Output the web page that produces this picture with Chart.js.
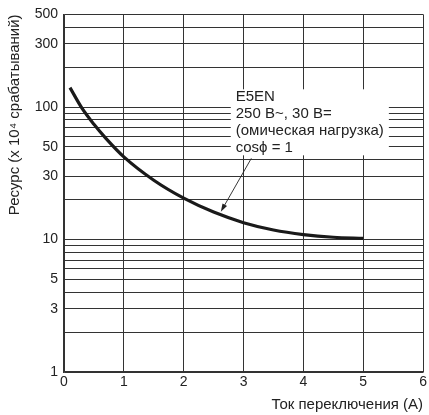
<!DOCTYPE html>
<html>
<head>
<meta charset="utf-8">
<script src="https://cdn.jsdelivr.net/npm/chart.js@4/dist/chart.umd.min.js"></script>
<style>
html,body{margin:0;padding:0;background:#fff;}
#wrap{width:429px;height:415px;}
</style>
</head>
<body>
<div id="wrap"><canvas id="c" width="429" height="415"></canvas></div>
<script>
const currentA = [0.1, 0.3, 0.5, 0.7, 1, 1.5, 2, 2.5, 3, 3.5, 4, 4.5, 5];
const lifeValues = [140, 98, 74, 58, 42, 28, 20.5, 16.1, 13.4, 11.8, 10.9, 10.4, 10.2];
const yGridValues = [1,2,3,4,5,6,7,8,9,10,20,30,40,50,60,70,80,90,100,200,300,400,500];
const yLabelValues = [1,3,5,10,30,50,100,300,500];
const xTickValues = [0,1,2,3,4,5,6];
const noteLines = ['E5EN', '250 В~, 30 В=', '(омическая нагрузка)', 'cosϕ = 1'];
const noteAnchor = {x: 2.87, y: 136};
const arrowFrom = {x: 3.13, y: 41};
const arrowTo = {x: 2.62, y: 16.2};
const yTitle = 'Ресурс (x 10⁴ срабатываний)';
const xTitle = 'Ток переключения (А)';

const FONT = '"Liberation Sans", Arial, sans-serif';

const notePlugin = {
  id: 'note',
  afterDatasetsDraw(chart) {
    const ctx = chart.ctx;
    const xs = chart.scales.x, ys = chart.scales.y;
    ctx.save();
    ctx.font = '15px ' + FONT;
    const lh = 17;
    let w = 0;
    noteLines.forEach(t => { w = Math.max(w, ctx.measureText(t).width); });
    const left = xs.getPixelForValue(noteAnchor.x);
    const top = ys.getPixelForValue(noteAnchor.y);
    ctx.fillStyle = '#fff';
    ctx.fillRect(left - 5, top, w + 10, lh * noteLines.length - 2);
    ctx.fillStyle = '#222';
    ctx.textBaseline = 'middle';
    ctx.textAlign = 'left';
    noteLines.forEach((t, i) => ctx.fillText(t, left, top + 8 + i * lh));
    // arrow
    const x1 = xs.getPixelForValue(arrowFrom.x), y1 = ys.getPixelForValue(arrowFrom.y);
    const x2 = xs.getPixelForValue(arrowTo.x), y2 = ys.getPixelForValue(arrowTo.y);
    const ang = Math.atan2(y2 - y1, x2 - x1);
    const hl = 8, hw = 2.6;
    ctx.strokeStyle = '#222';
    ctx.lineWidth = 0.9;
    ctx.beginPath();
    ctx.moveTo(x1, y1);
    ctx.lineTo(x2 - Math.cos(ang) * hl * 0.8, y2 - Math.sin(ang) * hl * 0.8);
    ctx.stroke();
    ctx.beginPath();
    ctx.moveTo(x2, y2);
    ctx.lineTo(x2 - Math.cos(ang) * hl - Math.sin(ang) * hw, y2 - Math.sin(ang) * hl + Math.cos(ang) * hw);
    ctx.lineTo(x2 - Math.cos(ang) * hl + Math.sin(ang) * hw, y2 - Math.sin(ang) * hl - Math.cos(ang) * hw);
    ctx.closePath();
    ctx.fillStyle = '#222';
    ctx.fill();
    ctx.restore();
  }
};

new Chart(document.getElementById('c'), {
  type: 'line',
  data: {
    datasets: [{
      data: currentA.map((x, i) => ({x: x, y: lifeValues[i]})),
      borderColor: '#1a1a1a',
      borderWidth: 3.2,
      pointRadius: 0,
      cubicInterpolationMode: 'monotone',
      fill: false
    }]
  },
  options: {
    responsive: false,
    animation: false,
    devicePixelRatio: 1,
    layout: {padding: {top: 10, right: 5, left: 0, bottom: 0}},
    plugins: {legend: {display: false}, tooltip: {enabled: false}},
    scales: {
      x: {
        type: 'linear', min: 0, max: 6,
        afterBuildTicks(s) { s.ticks = xTickValues.map(v => ({value: v})); },
        afterFit(s) { s.height = 43; },
        grid: {color: '#333', lineWidth: 1, drawTicks: false},
        border: {color: '#333', width: 1.5},
        ticks: {padding: 2, color: '#222', font: {family: FONT, size: 14}, maxRotation: 0, autoSkip: false},
        title: {display: true, text: xTitle, align: 'end', color: '#222', font: {family: FONT, size: 15}, padding: {top: 1, bottom: 1}}
      },
      y: {
        type: 'logarithmic', min: 1, max: 500,
        afterBuildTicks(s) { s.ticks = yGridValues.map(v => ({value: v})); },
        afterFit(s) { s.width = 64; },
        grid: {color: '#333', lineWidth: 1, drawTicks: false},
        border: {color: '#333', width: 1.5},
        ticks: {
          padding: 6, color: '#222', font: {family: FONT, size: 14}, autoSkip: false,
          callback: v => yLabelValues.includes(v) ? String(v) : ''
        },
        title: {display: true, text: yTitle, align: 'end', color: '#222', font: {family: FONT, size: 15}, padding: {top: 6, bottom: 0}}
      }
    }
  },
  plugins: [notePlugin]
});
</script>
</body>
</html>
